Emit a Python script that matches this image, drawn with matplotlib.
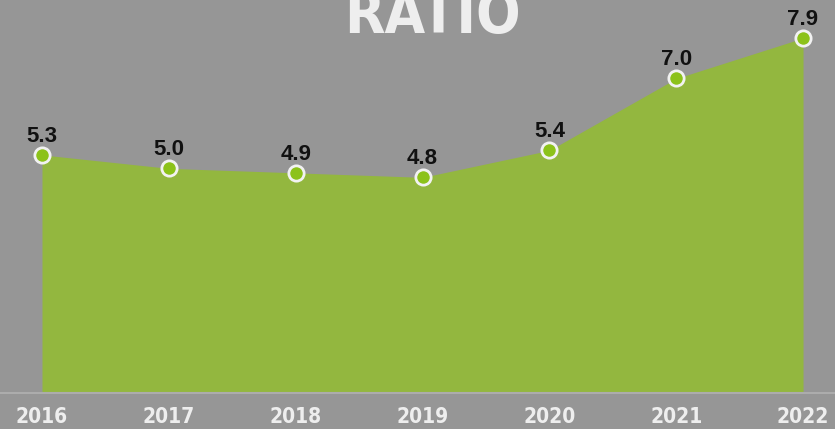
import matplotlib.pyplot as plt

years = [2016, 2017, 2018, 2019, 2020, 2021, 2022]
ratio = [5.3, 5.0, 4.9, 4.8, 5.4, 7.0, 7.9]

bg = '#969696'
green = '#93b73f'

fig = plt.figure(figsize=(8.35, 4.29), dpi=100, facecolor=bg)
ax = fig.add_axes([0, 36 / 429, 1, 393 / 429])
ax.set_facecolor(bg)

ax.fill_between(years, ratio, 0, color=green, lw=0)
ax.plot(years, ratio, 'o', ms=11, mfc='#8cc21a', mec='#f2f2f2', mew=2, zorder=3)

for x, y in zip(years, ratio):
    ax.annotate(f'{y:.1f}', (x, y), xytext=(0, 6), textcoords='offset points',
                ha='center', va='bottom', fontsize=16, fontweight='bold', color='#111111',
                family='Liberation Sans')

ax.set_xlim(2015.669, 2022.252)
ax.set_ylim(0, 8.747)
ax.set_yticks([])
ax.set_xticks(years)
ax.set_xticklabels([str(y) for y in years], fontsize=15, fontweight='bold', color='#eeeeee',
                   family='DejaVu Sans', stretch='condensed')
ax.tick_params(axis='x', length=0, pad=10)
for s in ['top', 'left', 'right']:
    ax.spines[s].set_visible(False)
ax.spines['bottom'].set_color('#acacac')
ax.spines['bottom'].set_linewidth(1.5)

# title sits partly above the top edge, as in the original
fig.text(0.518, 1 - 33 / 429, 'RATIO', ha='center', va='baseline', fontsize=42,
         fontweight='bold', color='#eeeeee', family='DejaVu Sans', stretch='condensed')

fig.savefig('out.png', dpi=100, facecolor=bg)
